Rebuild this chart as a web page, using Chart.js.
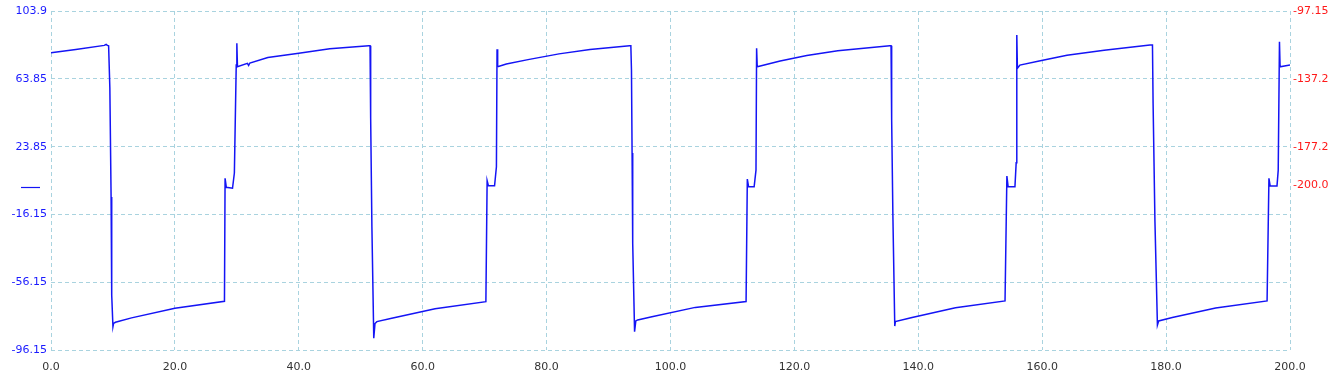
<!DOCTYPE html>
<html>
<head>
<meta charset="utf-8">
<script src="https://cdn.jsdelivr.net/npm/chart.js@4/dist/chart.umd.min.js"></script>
<style>
    html, body { margin: 0; padding: 0; background: #fff; }
    #scope { display: block; }
</style>
</head>
<body>
<canvas id="scope" width="1333" height="384"></canvas>
<script>
// Tick labels
const xTicks = [0, 20, 40, 60, 80, 100, 120, 140, 160, 180, 200];
const leftTicks = [103.9, 63.85, 23.85, -16.15, -56.15, -96.15];
const leftTickLabels = ['103.9', '63.85', '23.85', '-16.15', '-56.15', '-96.15'];
const rightTicks = [-97.15, -137.2, -177.2, -200.0];
const rightTickLabels = ['-97.15', '-137.2', '-177.2', '-200.0'];

// Waveform samples (time, value)
const timeUs = [
    0.0, 4.0, 8.6, 8.9, 9.1, 9.3, 9.5, 9.7, 9.8, 10.0, 10.1, 10.4, 13.0, 20.0, 28.0,
    28.1, 28.3, 29.3, 29.6, 29.9, 30.0, 30.1, 31.7, 31.9, 32.1, 35.0, 40.0, 45.0, 51.3,
    51.5, 51.6, 51.8, 52.1, 52.3, 52.6, 55.0, 62.0, 70.2,
    70.4, 70.6, 71.6, 71.9, 72.0, 72.1, 73.5, 77.0, 82.0, 87.0, 93.4,
    93.6, 93.7, 93.8, 93.9, 94.2, 94.4, 94.7, 97.0, 104.0, 112.2,
    112.4, 112.6, 113.5, 113.8, 113.9, 114.0, 117.7, 122.0, 127.0, 135.4,
    135.6, 135.7, 135.9, 136.2, 136.3, 139.0, 146.0, 154.0,
    154.3, 154.5, 155.6, 155.8, 155.9, 156.0, 156.4, 159.7, 164.0, 170.0, 177.4,
    177.8, 177.9, 178.2, 178.6, 178.8, 181.0, 188.0, 196.3,
    196.6, 196.8, 197.9, 198.1, 198.3, 198.4, 200.0
];
const voltage = [
    79.3, 81.2, 83.6, 84.2, 83.6, 83.4, 58.5, -5.9, -63.7, -82.4, -80.5, -79.8, -77.2, -71.5, -67.4,
    5.2, -0.1, -0.7, 8.3, 72.0, 84.8, 71.0, 73.0, 71.8, 73.2, 76.4, 79.0, 81.6, 83.4,
    83.4, 40.8, -23.4, -89.2, -80.5, -79.4, -77.4, -71.8, -67.6,
    3.8, 0.8, 0.8, 12.0, 81.3, 71.0, 72.6, 75.2, 78.6, 81.2, 83.4,
    83.4, 69.1, 20.1, -33.2, -85.3, -79.0, -78.4, -76.5, -71.0, -67.6,
    4.7, 0.2, 0.2, 10.0, 81.9, 71.0, 74.4, 77.6, 80.4, 83.4,
    83.4, 39.6, -17.4, -82.0, -79.4, -77.0, -71.2, -67.2,
    6.5, 0.2, 0.2, 14.4, 89.7, 70.1, 72.0, 74.6, 77.8, 80.8, 83.8,
    83.8, 49.4, -20.4, -81.4, -79.0, -77.0, -71.4, -67.2,
    5.2, 0.6, 0.6, 10.0, 85.8, 71.0, 72.0
];

const traceColor = '#1414f5';
const gridColor = '#a9d3df';
const tickFont = { family: 'DejaVu Sans', size: 11 };

// Short blue marker at the channel zero level, left of the plot
const zeroMarker = {
    id: 'zeroMarker',
    afterDraw(chart) {
        const y = Math.round(chart.scales.y.getPixelForValue(0)) + 0.5;
        const ctx = chart.ctx;
        ctx.save();
        ctx.strokeStyle = traceColor;
        ctx.lineWidth = 1.2;
        ctx.beginPath();
        ctx.moveTo(21, y);
        ctx.lineTo(40, y);
        ctx.stroke();
        ctx.restore();
    }
};

const ctx = document.getElementById('scope').getContext('2d');
new Chart(ctx, {
    type: 'line',
    data: {
        datasets: [{
            data: timeUs.map((t, i) => ({ x: t, y: voltage[i] })),
            borderColor: traceColor,
            borderWidth: 1.5,
            pointRadius: 0,
            tension: 0,
            fill: false
        }]
    },
    options: {
        responsive: false,
        devicePixelRatio: 1,
        animation: false,
        layout: { padding: { top: 11, left: 0, right: 0, bottom: 0 } },
        plugins: { legend: { display: false }, tooltip: { enabled: false } },
        scales: {
            x: {
                type: 'linear',
                position: 'bottom',
                min: 0,
                max: 200,
                afterBuildTicks: axis => { axis.ticks = xTicks.map(v => ({ value: v })); },
                afterFit: axis => { axis.height = 34; },
                ticks: {
                    color: '#333333',
                    font: tickFont,
                    padding: 11,
                    maxRotation: 0,
                    autoSkip: false,
                    callback: v => v.toFixed(1)
                },
                grid: { color: gridColor, drawTicks: false, lineWidth: 1 },
                border: { display: false, dash: [4, 3] }
            },
            y: {
                position: 'left',
                min: -96.15,
                max: 103.9,
                afterBuildTicks: axis => { axis.ticks = leftTicks.map(v => ({ value: v })); },
                afterFit: axis => { axis.width = 51; },
                ticks: {
                    color: '#1a1aff',
                    font: tickFont,
                    padding: 4,
                    autoSkip: false,
                    callback: (v, i) => leftTickLabels[i]
                },
                grid: { color: gridColor, drawTicks: false, lineWidth: 1 },
                border: { display: false, dash: [4, 3] }
            },
            y2: {
                position: 'right',
                min: -297.2,
                max: -97.15,
                afterBuildTicks: axis => { axis.ticks = rightTicks.map(v => ({ value: v })); },
                afterFit: axis => { axis.width = 43; },
                ticks: {
                    color: '#ff1a1a',
                    font: tickFont,
                    padding: 3,
                    autoSkip: false,
                    callback: (v, i) => rightTickLabels[i]
                },
                grid: { display: false, drawTicks: false },
                border: { display: false }
            }
        }
    },
    plugins: [zeroMarker]
});
</script>
</body>
</html>
